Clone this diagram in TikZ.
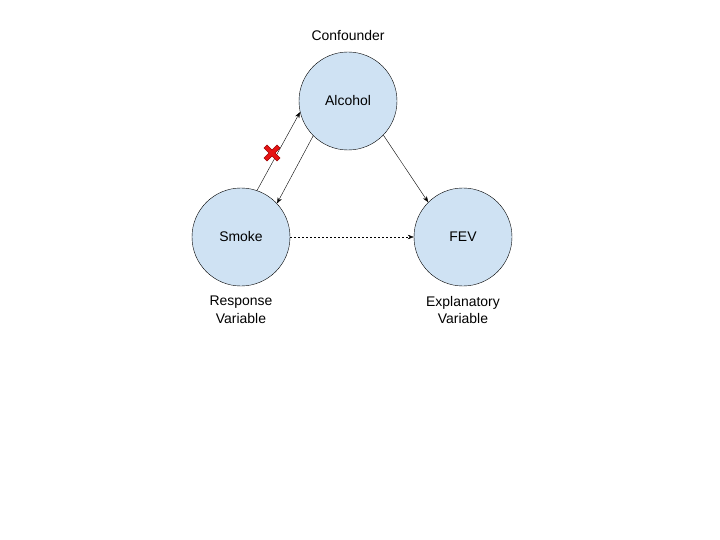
\documentclass[tikz,border=0pt]{standalone}
\usepackage{fontspec}
\setmainfont{Liberation Sans}
\usetikzlibrary{arrows.meta,positioning}
\definecolor{nodefill}{RGB}{207,226,243}
\definecolor{crossred}{RGB}{230,20,20}
\definecolor{crossdark}{RGB}{160,0,0}
\begin{document}
\begin{tikzpicture}[x=1bp,y=-1bp,
    var/.style={circle, draw=black, fill=nodefill, minimum size=98bp, inner sep=0pt, font=\fontsize{14}{17}\selectfont},
    lbl/.style={align=center, font=\fontsize{14}{18}\selectfont},
    link/.style={-{Stealth[length=6bp,width=4.5bp]}, thin}]
    \useasboundingbox (0,0) rectangle (720,540);

    % Variables
    \node[var] (alcohol) at (348,101) {Alcohol};
    \node[var] (smoke) at (241,237) {Smoke};
    \node[var] (fev) at (463,237) {FEV};

    % Labels
    \node[lbl] (conf) at (348,36) {Confounder};
    \node[lbl] (resp) at (241,310) {Response\\Variable};
    \node[lbl] (expl) at (463,310) {Explanatory\\Variable};

    % Links
    \draw[link] (smoke.71) -- (alcohol.193);
    \draw[link] (alcohol.225) -- (smoke.43);
    \draw[link] (alcohol.316) -- (fev.135);
    \draw[link, dash pattern=on 2bp off 2bp] (smoke.east) -- (fev.west);

    % Cross
    \filldraw[fill=crossred, draw=crossdark, line width=0.5bp, shift={(272,153)}]
        (-8,-5) -- (-5,-8) -- (0,-3) -- (5,-8) -- (8,-5) -- (3,0) -- (8,5) -- (5,8)
        -- (0,3) -- (-5,8) -- (-8,5) -- (-3,0) -- cycle;
\end{tikzpicture}
\end{document}
